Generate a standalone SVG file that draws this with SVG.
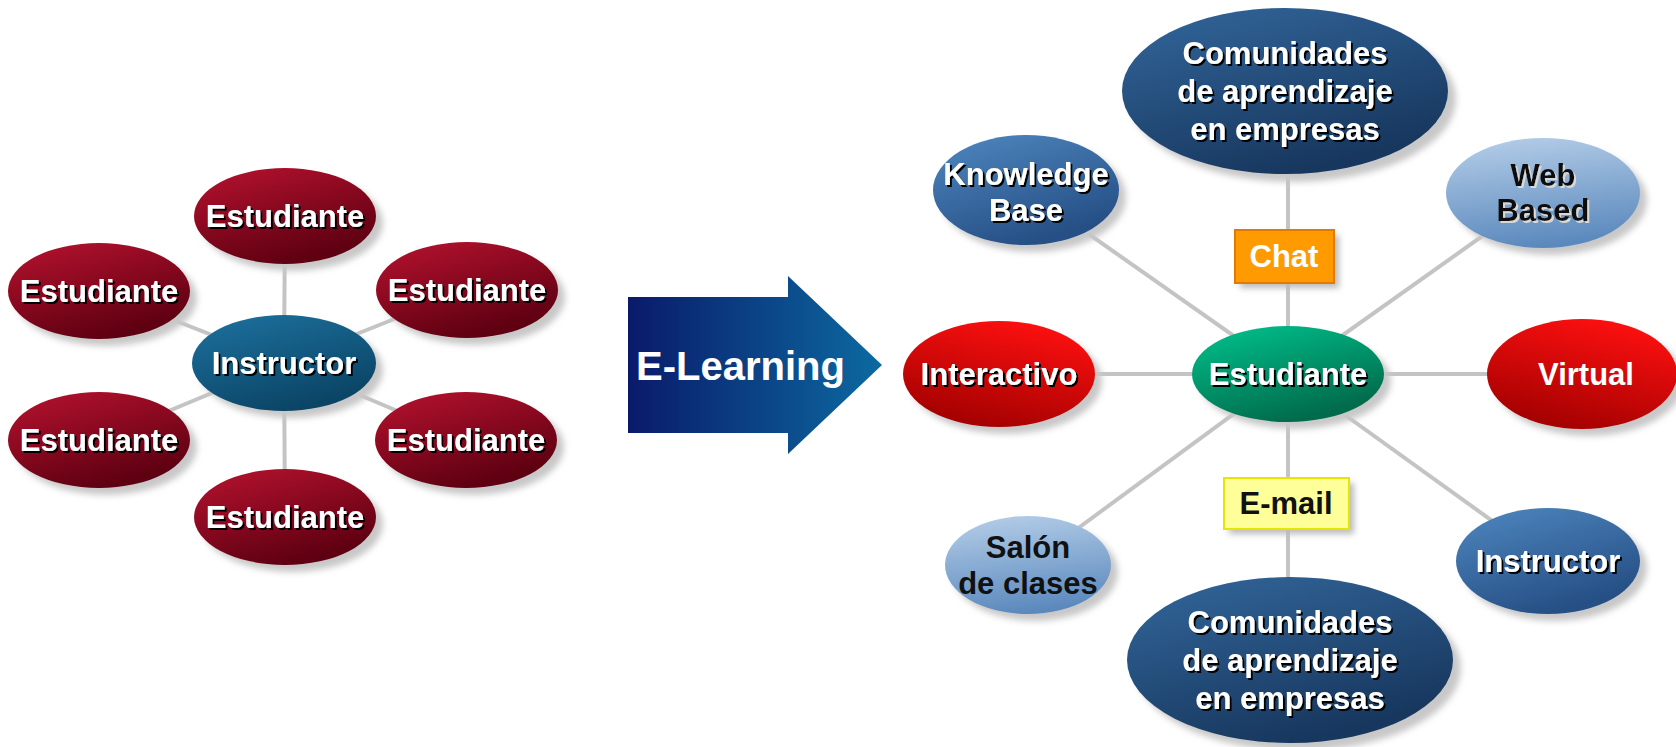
<svg xmlns="http://www.w3.org/2000/svg" width="1676" height="747" viewBox="0 0 1676 747">
<style>
.t{font-family:"Liberation Sans",Arial,sans-serif;font-weight:bold;font-size:31px;text-anchor:middle;fill:#fff;filter:url(#ts)}
.tl{font-family:"Liberation Sans",Arial,sans-serif;font-weight:bold;font-size:31px;text-anchor:middle;fill:#111;filter:url(#tw)}
.sh{fill:#c8c8c8;filter:url(#bl)}
.c line{stroke:#c4c4c4;stroke-width:4}
</style>
<defs>
<filter id="bl" x="-20%" y="-20%" width="140%" height="140%"><feGaussianBlur stdDeviation="3"/></filter>
<filter id="ts" x="-10%" y="-20%" width="120%" height="150%"><feDropShadow dx="2" dy="2" stdDeviation="0.6" flood-color="#000" flood-opacity="1"/></filter>
<filter id="tw" x="-10%" y="-20%" width="120%" height="150%"><feDropShadow dx="2" dy="2" stdDeviation="0.6" flood-color="#d8d8d8" flood-opacity="1"/></filter>
<filter id="bs" x="-20%" y="-20%" width="150%" height="150%"><feDropShadow dx="5" dy="5" stdDeviation="2.5" flood-color="#999" flood-opacity="0.7"/></filter>
<linearGradient id="gR" x1="0" y1="0" x2="0.5" y2="1"><stop offset="0" stop-color="#b8122f"/><stop offset="1" stop-color="#5e0011"/></linearGradient>
<linearGradient id="gI" x1="0" y1="0" x2="0.5" y2="1"><stop offset="0" stop-color="#1d72a0"/><stop offset="1" stop-color="#0b4566"/></linearGradient>
<linearGradient id="gG" x1="0" y1="0" x2="0.5" y2="1"><stop offset="0" stop-color="#00c48e"/><stop offset="1" stop-color="#006b4c"/></linearGradient>
<linearGradient id="gN" x1="0" y1="0" x2="0.5" y2="1"><stop offset="0" stop-color="#33679c"/><stop offset="1" stop-color="#17375e"/></linearGradient>
<linearGradient id="gM" x1="0" y1="0" x2="0.5" y2="1"><stop offset="0" stop-color="#4f88c0"/><stop offset="1" stop-color="#254f85"/></linearGradient>
<linearGradient id="gL" x1="0.2" y1="0" x2="0.4" y2="1"><stop offset="0" stop-color="#b4cde8"/><stop offset="1" stop-color="#5b89bd"/></linearGradient>
<linearGradient id="gV" x1="0.7" y1="0" x2="0.3" y2="1"><stop offset="0" stop-color="#ff1010"/><stop offset="1" stop-color="#a00000"/></linearGradient>
<linearGradient id="gA" x1="0" y1="0" x2="1" y2="0"><stop offset="0" stop-color="#0a1a6a"/><stop offset="1" stop-color="#0c6aa0"/></linearGradient>
</defs>
<rect width="1676" height="747" fill="#fff"/>

<g id="connectors" class="c">
<line x1="284" y1="363" x2="285" y2="216"/>
<line x1="284" y1="363" x2="99" y2="291"/>
<line x1="284" y1="363" x2="467" y2="290"/>
<line x1="284" y1="363" x2="99" y2="440"/>
<line x1="284" y1="363" x2="466" y2="440"/>
<line x1="284" y1="363" x2="285" y2="517"/>
<line x1="1288" y1="374" x2="1288" y2="91"/>
<line x1="1288" y1="374" x2="1288" y2="660"/>
<line x1="1288" y1="374" x2="1026" y2="190"/>
<line x1="1288" y1="374" x2="1543" y2="193"/>
<line x1="1288" y1="374" x2="999" y2="374"/>
<line x1="1288" y1="374" x2="1582" y2="374"/>
<line x1="1288" y1="374" x2="1028" y2="565"/>
<line x1="1288" y1="374" x2="1548" y2="561"/>
</g>

<g id="l-est-top"><ellipse class="sh" cx="292" cy="223" rx="91" ry="48"/><ellipse cx="285" cy="216" rx="91" ry="48" fill="url(#gR)"/><text class="t" x="285" y="227">Estudiante</text></g>
<g id="l-est-ul"><ellipse class="sh" cx="106" cy="298" rx="91" ry="48"/><ellipse cx="99" cy="291" rx="91" ry="48" fill="url(#gR)"/><text class="t" x="99" y="302">Estudiante</text></g>
<g id="l-est-ur"><ellipse class="sh" cx="474" cy="297" rx="91" ry="48"/><ellipse cx="467" cy="290" rx="91" ry="48" fill="url(#gR)"/><text class="t" x="467" y="301">Estudiante</text></g>
<g id="l-instructor"><ellipse class="sh" cx="291" cy="370" rx="92" ry="48"/><ellipse cx="284" cy="363" rx="92" ry="48" fill="url(#gI)"/><text class="t" x="284" y="374">Instructor</text></g>
<g id="l-est-ll"><ellipse class="sh" cx="106" cy="447" rx="91" ry="48"/><ellipse cx="99" cy="440" rx="91" ry="48" fill="url(#gR)"/><text class="t" x="99" y="451">Estudiante</text></g>
<g id="l-est-lr"><ellipse class="sh" cx="473" cy="447" rx="91" ry="48"/><ellipse cx="466" cy="440" rx="91" ry="48" fill="url(#gR)"/><text class="t" x="466" y="451">Estudiante</text></g>
<g id="l-est-bot"><ellipse class="sh" cx="292" cy="524" rx="91" ry="48"/><ellipse cx="285" cy="517" rx="91" ry="48" fill="url(#gR)"/><text class="t" x="285" y="528">Estudiante</text></g>

<g id="arrow"><path d="M628,297 H788 V276 L882,365 L788,454 V433 H628 Z" fill="url(#gA)"/><text x="636" y="380" font-family="Liberation Sans,Arial,sans-serif" font-weight="bold" font-size="40" fill="#fff">E-Learning</text></g>

<g id="r-com-top"><ellipse class="sh" cx="1293" cy="99" rx="163" ry="83"/><ellipse cx="1285" cy="91" rx="163" ry="83" fill="url(#gN)"/><text class="t" x="1285" y="64">Comunidades</text><text class="t" x="1285" y="102">de aprendizaje</text><text class="t" x="1285" y="140">en empresas</text></g>
<g id="r-knowledge"><ellipse class="sh" cx="1033" cy="197" rx="93" ry="55"/><ellipse cx="1026" cy="190" rx="93" ry="55" fill="url(#gM)"/><text class="t" x="1026" y="185">Knowledge</text><text class="t" x="1026" y="221">Base</text></g>
<g id="r-web"><ellipse class="sh" cx="1550" cy="200" rx="97" ry="55"/><ellipse cx="1543" cy="193" rx="97" ry="55" fill="url(#gL)"/><text class="tl" x="1543" y="186">Web</text><text class="tl" x="1543" y="221">Based</text></g>
<g id="r-chat"><rect x="1240" y="235" width="99" height="53" fill="#bbb" filter="url(#bl)"/><rect x="1235" y="230" width="99" height="53" fill="#ff9a00" stroke="#e07a00" stroke-width="2"/><text class="t" x="1284" y="267" style="filter:none">Chat</text></g>
<g id="r-interactivo"><ellipse class="sh" cx="1006" cy="381" rx="96" ry="53"/><ellipse cx="999" cy="374" rx="96" ry="53" fill="url(#gV)"/><text class="t" x="999" y="385">Interactivo</text></g>
<g id="r-estudiante"><ellipse class="sh" cx="1295" cy="381" rx="96" ry="48"/><ellipse cx="1288" cy="374" rx="96" ry="48" fill="url(#gG)"/><text class="t" x="1288" y="385">Estudiante</text></g>
<g id="r-virtual"><ellipse class="sh" cx="1589" cy="381" rx="95" ry="55"/><ellipse cx="1582" cy="374" rx="95" ry="55" fill="url(#gV)"/><text class="t" x="1586" y="385" style="filter:none">Virtual</text></g>
<g id="r-email"><rect x="1229" y="483" width="125" height="51" fill="#bbb" filter="url(#bl)"/><rect x="1224" y="478" width="125" height="51" fill="#ffff99" stroke="#e6e600" stroke-width="2"/><text class="tl" x="1286" y="514" style="filter:none">E-mail</text></g>
<g id="r-salon"><ellipse class="sh" cx="1035" cy="572" rx="83" ry="49"/><ellipse cx="1028" cy="565" rx="83" ry="49" fill="url(#gL)"/><text class="tl" x="1028" y="558" style="filter:none">Salón</text><text class="tl" x="1028" y="594" style="filter:none">de clases</text></g>
<g id="r-instructor"><ellipse class="sh" cx="1555" cy="568" rx="92" ry="53"/><ellipse cx="1548" cy="561" rx="92" ry="53" fill="url(#gM)"/><text class="t" x="1548" y="572">Instructor</text></g>
<g id="r-com-bot"><ellipse class="sh" cx="1298" cy="668" rx="163" ry="83"/><ellipse cx="1290" cy="660" rx="163" ry="83" fill="url(#gN)"/><text class="t" x="1290" y="633">Comunidades</text><text class="t" x="1290" y="671">de aprendizaje</text><text class="t" x="1290" y="709">en empresas</text></g>
</svg>
